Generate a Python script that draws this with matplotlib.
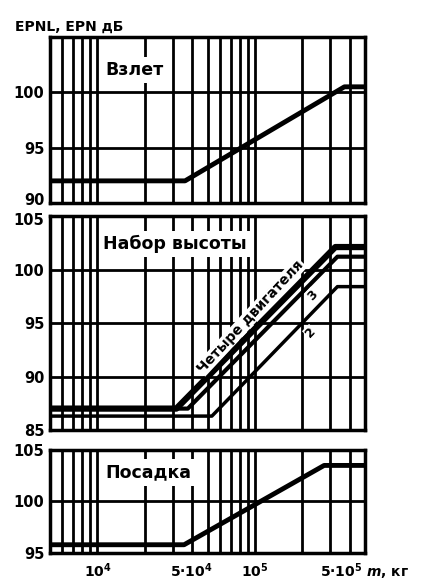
import matplotlib.pyplot as plt
import matplotlib.transforms as mtransforms
from matplotlib.ticker import LogLocator, NullFormatter

# Масса самолета, кг и уровни шума EPN дБ
mass_takeoff = [5e3, 3.6e4, 3.7e5, 5e5]
epnl_takeoff = [92.0, 92.0, 100.5, 100.5]

mass_climb_4 = [5e3, 3.17e4, 3.24e5, 5e5]
epnl_climb_4 = [87.0, 87.0, 102.1, 102.1]
mass_climb_3 = [5e3, 3.75e4, 3.34e5, 5e5]
epnl_climb_3 = [87.0, 87.0, 101.2, 101.2]
mass_climb_2 = [5e3, 5.33e4, 3.34e5, 5e5]
epnl_climb_2 = [86.3, 86.3, 98.4, 98.4]

mass_landing = [5e3, 3.55e4, 2.75e5, 5e5]
epnl_landing = [95.8, 95.8, 103.5, 103.5]

# Подписи осей
xtick_vals = [1e4, 5e4, 1e5, 5e5]
xtick_labels = ['10$^4$', '5·10$^4$', '10$^5$', '5·10$^5$ $\\mathit{m}$, кг']
yticks_takeoff = [90, 95, 100]
yticks_climb = [85, 90, 95, 100, 105]
yticks_landing = [95, 100, 105]

plt.rcParams['font.family'] = ['DejaVu Sans']
plt.rcParams['font.weight'] = 'bold'
plt.rcParams['mathtext.default'] = 'bf'

fig = plt.figure(figsize=(4.24, 5.84), dpi=100)

ax1 = fig.add_axes([0.1179, 0.6524, 0.743, 0.2842])
ax2 = fig.add_axes([0.1179, 0.2637, 0.743, 0.3664])
ax3 = fig.add_axes([0.1179, 0.0531, 0.743, 0.1764])

panels = [(ax1, (90, 105), yticks_takeoff),
          (ax2, (85, 105), yticks_climb),
          (ax3, (95, 105), yticks_landing)]

for ax, ylim, yticks in panels:
    ax.set_xscale('log')
    ax.set_xlim(5e3, 5e5)
    ax.set_ylim(*ylim)
    ax.set_yticks(yticks)
    ax.set_xticks(xtick_vals)
    ax.xaxis.set_minor_locator(LogLocator(base=10, subs=range(1, 10), numticks=20))
    ax.xaxis.set_minor_formatter(NullFormatter())
    ax.grid(True, which='both', axis='x', color='black', lw=2)
    ax.grid(True, which='major', axis='y', color='black', lw=2)
    ax.tick_params(which='both', length=0, labelsize=10.5, pad=4)
    for s in ax.spines.values():
        s.set_linewidth(2.5)

ax1.tick_params(labelbottom=False)
ax2.tick_params(labelbottom=False)
ax3.set_xticklabels(xtick_labels)
ax3.tick_params(axis='x', pad=6, labelsize=10)

# Кривые
ax1.plot(mass_takeoff, epnl_takeoff, color='black', lw=3.5, solid_capstyle='butt')
ax2.plot(mass_climb_4, epnl_climb_4, color='black', lw=4.5, solid_capstyle='butt')
ax2.plot(mass_climb_3, epnl_climb_3, color='black', lw=3, solid_capstyle='butt')
ax2.plot(mass_climb_2, epnl_climb_2, color='black', lw=2.5, solid_capstyle='butt')
ax3.plot(mass_landing, epnl_landing, color='black', lw=3.5, solid_capstyle='butt')

# Заголовки панелей
box = dict(facecolor='white', edgecolor='none', pad=3)
ax1.text(0.175, 0.8, 'Взлет', transform=ax1.transAxes, fontsize=12.5,
         va='center', ha='left', bbox=box)
ax2.text(0.168, 0.87, 'Набор высоты', transform=ax2.transAxes, fontsize=12.5,
         va='center', ha='left', bbox=box)
ax3.text(0.175, 0.78, 'Посадка', transform=ax3.transAxes, fontsize=12.5,
         va='center', ha='left', bbox=box)

# Подписи кривых
ax2.text(9.4e4, 95.6, 'Четыре двигателя', fontsize=10, rotation=47,
         ha='center', va='center', rotation_mode='anchor',
         bbox=dict(facecolor='white', edgecolor='none', pad=0.5))
ax2.text(2.33e5, 97.6, '3', fontsize=9, rotation=46, ha='center', va='center',
         bbox=dict(facecolor='white', edgecolor='none', pad=0.5))
ax2.text(2.26e5, 94.1, '2', fontsize=9, rotation=46, ha='center', va='center',
         bbox=dict(facecolor='white', edgecolor='none', pad=0.5))

fig.text(15 / 424, 1 - 27 / 584, 'EPNL, EPN дБ', fontsize=10, ha='left', va='center')

# Небольшие сдвиги подписей, как в оригинале
def shift(lbl, dx, dy):
    off = mtransforms.ScaledTranslation(dx / 72, dy / 72, fig.dpi_scale_trans)
    lbl.set_transform(lbl.get_transform() + off)

shift(ax3.get_xticklabels()[1], -12, 0)
shift(ax1.get_yticklabels()[0], 0, 3)
shift(ax2.get_yticklabels()[-1], 0, -2)

fig.savefig('out.png', dpi=100)
